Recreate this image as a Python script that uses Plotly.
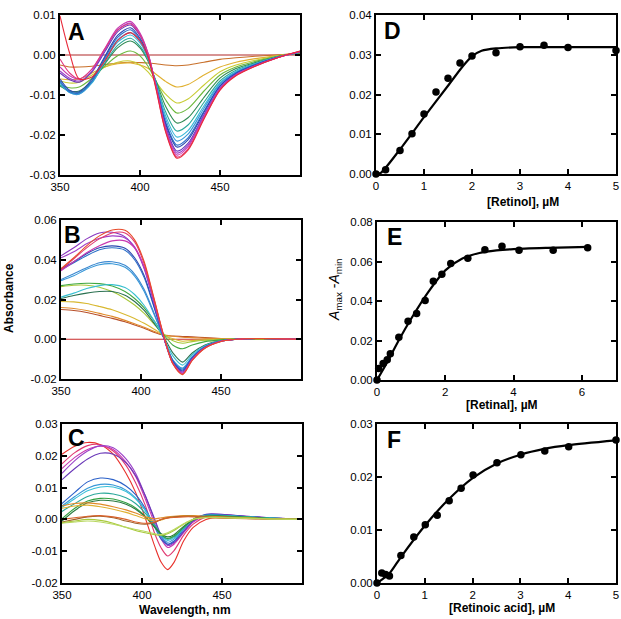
import plotly.graph_objects as go

W, H = 621, 619
FONT = "Liberation Sans, Arial, sans-serif"

# ---------------- Panel A (retinol spectra) ----------------
wl_A = [350, 356, 362, 370, 378, 386, 394, 400, 405, 410, 416, 423, 430, 440, 450, 460, 472, 485, 500]
spectra_A = [
    [0.0] * 19,
    [-0.0025, -0.003, -0.003, -0.0028, -0.0024, -0.002, -0.0018, -0.0019, -0.002, -0.0022, -0.0025, -0.0027, -0.0025, -0.0018, -0.0011, -0.0007, -0.0003, 0.0, 0.0004],
    [-0.006, -0.0062, -0.006, -0.0045, -0.003, -0.0022, -0.002, -0.0025, -0.0033, -0.0048, -0.0066, -0.008, -0.0074, -0.005, -0.003, -0.0018, -0.0009, -0.0002, 0.0006],
    [-0.0065, -0.007, -0.0068, -0.005, -0.003, -0.0018, -0.0015, -0.0025, -0.0042, -0.0068, -0.0098, -0.012, -0.011, -0.0075, -0.0042, -0.0025, -0.0013, -0.0003, 0.0006],
    [-0.0075, -0.0082, -0.008, -0.0058, -0.0028, -0.0002, 0.001, -0.0002, -0.0028, -0.0065, -0.0112, -0.0145, -0.0134, -0.009, -0.005, -0.003, -0.0016, -0.0004, 0.0006],
    [-0.0078, -0.009, -0.009, -0.0065, -0.0022, 0.0018, 0.0035, 0.0018, -0.0015, -0.0065, -0.0128, -0.017, -0.0157, -0.0106, -0.0058, -0.0034, -0.0019, -0.0005, 0.0006],
    [-0.0075, -0.0092, -0.0094, -0.0068, -0.002, 0.0024, 0.0042, 0.0022, -0.0012, -0.0068, -0.0142, -0.019, -0.0175, -0.0118, -0.0065, -0.0038, -0.0021, -0.0006, 0.0007],
    [-0.007, -0.0094, -0.0097, -0.007, -0.0015, 0.0032, 0.005, 0.003, -0.0008, -0.007, -0.0152, -0.0205, -0.0189, -0.0127, -0.007, -0.0041, -0.0022, -0.0006, 0.0007],
    [-0.0068, -0.0094, -0.0098, -0.0068, -0.0012, 0.0038, 0.0056, 0.0034, -0.0006, -0.0072, -0.016, -0.0215, -0.0198, -0.0133, -0.0073, -0.0043, -0.0023, -0.0007, 0.0007],
    [-0.0065, -0.0092, -0.0095, -0.0065, -0.0008, 0.0044, 0.0063, 0.0038, -0.0004, -0.0075, -0.0168, -0.0225, -0.0207, -0.014, -0.0077, -0.0045, -0.0024, -0.0007, 0.0008],
    [-0.006, -0.0088, -0.0092, -0.006, -0.0004, 0.0049, 0.0068, 0.0042, -0.0002, -0.0078, -0.0172, -0.023, -0.0212, -0.0143, -0.0078, -0.0046, -0.0025, -0.0007, 0.0008],
    [-0.0045, -0.0062, -0.0068, -0.0042, 0.0008, 0.0058, 0.0075, 0.0048, 0.0002, -0.0078, -0.0178, -0.024, -0.0221, -0.0149, -0.0082, -0.0048, -0.0026, -0.0007, 0.0008],
    [-0.004, -0.0058, -0.0065, -0.004, 0.0012, 0.0063, 0.008, 0.0052, 0.0004, -0.0078, -0.0182, -0.0245, -0.0226, -0.0152, -0.0083, -0.0049, -0.0027, -0.0008, 0.0008],
    [-0.003, -0.0052, -0.006, -0.0035, 0.0016, 0.0067, 0.0084, 0.0055, 0.0005, -0.0078, -0.0185, -0.025, -0.023, -0.0155, -0.0085, -0.005, -0.0027, -0.0008, 0.0009],
    [-0.001, -0.0045, -0.006, -0.0035, 0.0015, 0.0062, 0.0078, 0.005, 0.0002, -0.0082, -0.019, -0.0255, -0.0235, -0.0158, -0.0087, -0.0051, -0.0028, -0.0008, 0.0009],
    [0.0098, 0.0005, -0.006, -0.0055, -0.0015, 0.0036, 0.0056, 0.0035, -0.0005, -0.0085, -0.0192, -0.0258, -0.0238, -0.016, -0.0088, -0.0052, -0.0028, -0.0008, 0.001],
]
colors_A = ["#b02828", "#c8702a", "#e0b030", "#c8cc34", "#6cb83c", "#2f8a52", "#2aa89a",
            "#38b8d8", "#3898d8", "#2a70c8", "#2a48b0", "#6a38b8", "#9a40c8", "#c838b0", "#e03880", "#e82a3a"]

# ---------------- Panel B (retinal spectra) ----------------
wl_B = [350, 358, 366, 374, 382, 390, 396, 402, 408, 414, 420, 426, 432, 440, 450, 460, 475, 500]
spectra_B = [
    [0.0] * 18,
    [0.015, 0.0145, 0.0135, 0.012, 0.0105, 0.0088, 0.0072, 0.0055, 0.0035, 0.002, 0.0016, 0.0014, 0.0012, 0.0008, 0.0004, 0.0002, 0.0002, 0.0],
    [0.016, 0.0155, 0.0145, 0.013, 0.0115, 0.0095, 0.0078, 0.006, 0.004, 0.0022, 0.0015, 0.001, 0.0008, 0.0005, 0.0003, 0.0002, 0.0002, 0.0],
    [0.019, 0.0188, 0.018, 0.0165, 0.0148, 0.0125, 0.0105, 0.008, 0.0052, 0.0022, 0.0002, -0.001, -0.0006, -0.0003, 0.0, 0.0002, 0.0002, 0.0],
    [0.0265, 0.0272, 0.0272, 0.0262, 0.024, 0.0205, 0.0172, 0.013, 0.0078, 0.0028, -0.0008, -0.002, -0.0012, -0.0005, -0.0001, 0.0002, 0.0003, 0.0],
    [0.027, 0.0278, 0.0282, 0.028, 0.0268, 0.024, 0.0205, 0.0158, 0.0095, 0.0025, -0.003, -0.0048, -0.0029, -0.0012, -0.0003, 0.0001, 0.0003, 0.0],
    [0.0205, 0.022, 0.0232, 0.024, 0.024, 0.0222, 0.019, 0.0145, 0.0082, 0.0015, -0.007, -0.0115, -0.0069, -0.0029, -0.0007, 0.0, 0.0004, 0.0],
    [0.0212, 0.0232, 0.0255, 0.027, 0.0275, 0.026, 0.0225, 0.017, 0.0095, 0.001, -0.0085, -0.013, -0.0078, -0.0033, -0.0008, 0.0, 0.0004, 0.0],
    [0.0295, 0.032, 0.0352, 0.0375, 0.038, 0.0362, 0.0318, 0.024, 0.0128, 0.0012, -0.0105, -0.0145, -0.0087, -0.0036, -0.0009, 0.0, 0.0004, 0.0],
    [0.030, 0.033, 0.036, 0.0385, 0.039, 0.0372, 0.0328, 0.025, 0.0135, 0.0012, -0.0108, -0.015, -0.009, -0.0038, -0.0009, 0.0, 0.0004, 0.0],
    [0.035, 0.0385, 0.042, 0.045, 0.046, 0.0448, 0.040, 0.031, 0.0165, 0.0012, -0.011, -0.0155, -0.0093, -0.0039, -0.0009, 0.0, 0.0004, 0.0],
    [0.0355, 0.039, 0.043, 0.046, 0.047, 0.0458, 0.041, 0.032, 0.017, 0.0012, -0.0115, -0.016, -0.0096, -0.004, -0.001, 0.0, 0.0004, 0.0],
    [0.042, 0.046, 0.0505, 0.0535, 0.0538, 0.0515, 0.046, 0.0355, 0.0185, 0.0012, -0.012, -0.0165, -0.0099, -0.0041, -0.001, 0.0, 0.0004, 0.0],
    [0.041, 0.044, 0.048, 0.0508, 0.052, 0.051, 0.0465, 0.036, 0.019, 0.0015, -0.0122, -0.017, -0.0102, -0.0043, -0.001, 0.0, 0.0004, 0.0],
    [0.0345, 0.039, 0.0435, 0.047, 0.0495, 0.0495, 0.046, 0.0365, 0.020, 0.002, -0.0122, -0.0172, -0.0103, -0.0043, -0.001, 0.0, 0.0004, 0.0],
    [0.035, 0.0405, 0.046, 0.0505, 0.0535, 0.0535, 0.049, 0.038, 0.0205, 0.0022, -0.0125, -0.0175, -0.0105, -0.0044, -0.0011, 0.0, 0.0004, 0.0],
    [0.0355, 0.041, 0.047, 0.052, 0.055, 0.0548, 0.050, 0.039, 0.021, 0.0025, -0.0125, -0.0178, -0.0107, -0.0045, -0.0011, 0.0, 0.0004, 0.0],
]
colors_B = ["#c82a2a", "#b8502a", "#e08a2a", "#d8b830", "#a8c83a", "#40a840", "#2a7050", "#38c0d0",
            "#3898d8", "#3a88d0", "#2a70c8", "#2a48b0", "#8a38c0", "#a040c8", "#c838b0", "#e03870", "#e84a2a"]

# ---------------- Panel C (retinoic acid spectra) ----------------
wl_C = [350, 358, 366, 374, 382, 390, 396, 402, 408, 412, 416, 420, 426, 432, 440, 450, 465, 480, 500]
spectra_C = [
    [0.0205, 0.023, 0.0242, 0.0235, 0.0205, 0.0145, 0.0085, 0.0005, -0.0085, -0.0135, -0.0158, -0.0135, -0.0068, -0.0025, 0.0, 0.0008, 0.0006, 0.0003, 0.0],
    [0.0175, 0.021, 0.0232, 0.0235, 0.0215, 0.017, 0.0115, 0.0045, -0.0045, -0.009, -0.0115, -0.0098, -0.005, -0.0015, 0.0008, 0.0012, 0.0008, 0.0004, 0.0],
    [0.016, 0.0195, 0.022, 0.023, 0.022, 0.018, 0.0135, 0.0065, -0.0015, -0.0062, -0.0088, -0.0078, -0.0042, -0.0008, 0.0012, 0.0014, 0.0009, 0.0004, 0.0],
    [0.0145, 0.0185, 0.0215, 0.0232, 0.0225, 0.019, 0.0145, 0.0075, -0.0005, -0.0055, -0.0082, -0.0074, -0.004, -0.0006, 0.0014, 0.0015, 0.001, 0.0005, 0.0],
    [0.0125, 0.016, 0.019, 0.0208, 0.0205, 0.0178, 0.0138, 0.0075, 0.0, -0.005, -0.0078, -0.0072, -0.0038, -0.0004, 0.0016, 0.0016, 0.001, 0.0005, 0.0],
    [0.005, 0.0085, 0.0118, 0.013, 0.0125, 0.0105, 0.0078, 0.0035, -0.0025, -0.0062, -0.0078, -0.0068, -0.0032, 0.0, 0.0015, 0.0014, 0.0009, 0.0004, 0.0],
    [0.0042, 0.0072, 0.0098, 0.011, 0.0108, 0.0092, 0.0068, 0.003, -0.0022, -0.0055, -0.0072, -0.0062, -0.003, 0.0, 0.0013, 0.0013, 0.0008, 0.0004, 0.0],
    [0.0038, 0.0065, 0.009, 0.0102, 0.0102, 0.0088, 0.0065, 0.0028, -0.002, -0.005, -0.0066, -0.0058, -0.0028, 0.0, 0.0012, 0.0012, 0.0008, 0.0004, 0.0],
    [0.0025, 0.005, 0.0072, 0.0082, 0.008, 0.0068, 0.005, 0.002, -0.0018, -0.0048, -0.0062, -0.0055, -0.0026, 0.0, 0.0012, 0.0012, 0.0008, 0.0004, 0.0],
    [0.0002, 0.0035, 0.0058, 0.0066, 0.0064, 0.0052, 0.0036, 0.001, -0.0025, -0.0048, -0.006, -0.0052, -0.0025, -0.0002, 0.001, 0.001, 0.0007, 0.0003, 0.0],
    [-0.0005, 0.0028, 0.0052, 0.006, 0.0058, 0.0048, 0.0032, 0.0008, -0.0025, -0.0045, -0.0055, -0.0048, -0.0022, 0.0, 0.001, 0.001, 0.0006, 0.0003, 0.0],
    [0.0042, 0.005, 0.0052, 0.0048, 0.004, 0.003, 0.002, 0.0008, 0.0002, 0.0005, 0.0008, 0.001, 0.0012, 0.0012, 0.001, 0.0008, 0.0005, 0.0002, 0.0],
    [0.0035, 0.0042, 0.0045, 0.004, 0.0032, 0.0022, 0.0012, 0.0002, -0.0005, -0.0002, 0.0005, 0.0008, 0.001, 0.001, 0.0008, 0.0006, 0.0004, 0.0002, 0.0],
    [-0.0008, 0.0, 0.0008, 0.001, 0.0005, -0.0005, -0.0012, -0.0015, -0.001, 0.0, 0.0005, 0.0008, 0.001, 0.001, 0.0008, 0.0005, 0.0003, 0.0001, 0.0],
    [0.0, 0.0005, 0.001, 0.0012, 0.0008, 0.0, -0.0008, -0.0012, -0.0008, 0.0, 0.0004, 0.0006, 0.0008, 0.0008, 0.0006, 0.0004, 0.0002, 0.0001, 0.0],
    [-0.001, -0.0005, 0.0, -0.0003, -0.0012, -0.0025, -0.0035, -0.0042, -0.0048, -0.005, -0.0045, -0.0035, -0.0015, 0.0, 0.0006, 0.0006, 0.0004, 0.0002, 0.0],
    [-0.0012, -0.0008, -0.0005, -0.0008, -0.0015, -0.0025, -0.0032, -0.0038, -0.0045, -0.0048, -0.0042, -0.0032, -0.0014, 0.0, 0.0005, 0.0005, 0.0003, 0.0001, 0.0],
]
colors_C = ["#e8302a", "#e03870", "#c838b0", "#9a40c8", "#6a38b8", "#2a60c8", "#3898d8", "#38c0d8",
            "#2aa89a", "#30a040", "#2a7a40", "#e08a2a", "#e0b030", "#a0602a", "#d8602a", "#a8c83a", "#b8d860"]

# ---------------- Panel D (retinol titration) ----------------
D_conc = [0, 0.2, 0.5, 0.75, 1.0, 1.25, 1.5, 1.75, 2.0, 2.5, 3.0, 3.5, 4.0, 5.0]
D_signal = [0, 0.0011, 0.0059, 0.0101, 0.0151, 0.0206, 0.0241, 0.0279, 0.0297, 0.0305, 0.032, 0.0324, 0.0318, 0.0311]
D_fit_x = [0, 0.1, 0.5, 1.0, 1.5, 1.8, 2.0, 2.2, 2.5, 3.0, 4.0, 5.0]
D_fit_y = [0, 0.0003, 0.0062, 0.0143, 0.0222, 0.027, 0.0296, 0.031, 0.0316, 0.0319, 0.0319, 0.0319]

# ---------------- Panel E (retinal titration) ----------------
E_conc = [0, 0.05, 0.18, 0.3, 0.39, 0.64, 0.91, 1.16, 1.41, 1.65, 1.9, 2.16, 2.66, 3.16, 3.66, 4.16, 5.16, 6.17]
E_signal = [0, 0.0058, 0.0083, 0.0103, 0.0133, 0.0217, 0.0297, 0.0337, 0.0403, 0.050, 0.0535, 0.059, 0.0617, 0.066, 0.0677, 0.0657, 0.0657, 0.067]
E_fit_x = [0, 0.3, 0.65, 1.0, 1.5, 2.0, 2.5, 3.0, 3.5, 4.0, 5.0, 6.2]
E_fit_y = [0, 0.009, 0.0205, 0.031, 0.0445, 0.0555, 0.0615, 0.0643, 0.0656, 0.0663, 0.0669, 0.0674]

# ---------------- Panel F (retinoic acid titration) ----------------
F_conc = [0, 0.1, 0.18, 0.26, 0.5, 0.77, 1.01, 1.26, 1.51, 1.76, 2.01, 2.51, 3.01, 3.51, 4.01, 5.0]
F_signal = [0, 0.0019, 0.0016, 0.0013, 0.0052, 0.0087, 0.011, 0.0128, 0.0155, 0.0179, 0.0204, 0.0227, 0.0242, 0.0249, 0.0257, 0.027]
F_fit_x = [0, 0.25, 0.5, 1.0, 1.5, 2.0, 2.5, 3.0, 3.5, 4.0, 5.0]
F_fit_y = [0, 0.0017, 0.0049, 0.0108, 0.0158, 0.0198, 0.0225, 0.0242, 0.0253, 0.026, 0.0269]

# ---------------- tick labels ----------------
wl_ticks = [350, 400, 450]
wl_ticktext = ["350", "400", "450"]
A_yticks = [0.01, 0.0, -0.01, -0.02, -0.03]
A_yticktext = ["0.01", "0.00", "-0.01", "-0.02", "-0.03"]
B_yticks = [0.06, 0.04, 0.02, 0.0, -0.02]
B_yticktext = ["0.06", "0.04", "0.02", "0.00", "-0.02"]
C_yticks = [0.03, 0.02, 0.01, 0.0, -0.01, -0.02]
C_yticktext = ["0.03", "0.02", "0.01", "0.00", "-0.01", "-0.02"]
D_xticks = [0, 1, 2, 3, 4, 5]
D_yticks = [0, 0.01, 0.02, 0.03, 0.04]
D_yticktext = ["0.00", "0.01", "0.02", "0.03", "0.04"]
E_xticks = [0, 2, 4, 6]
E_yticks = [0, 0.02, 0.04, 0.06, 0.08]
E_yticktext = ["0.00", "0.02", "0.04", "0.06", "0.08"]
F_xticks = [0, 1, 2, 3, 4, 5]
F_yticks = [0, 0.01, 0.02, 0.03]
F_yticktext = ["0.00", "0.01", "0.02", "0.03"]

fig = go.Figure()


def add_spectra(wl, curves, colors, ax):
    for ys, c in zip(curves, colors):
        fig.add_trace(go.Scatter(x=wl, y=ys, mode="lines",
                                 line=dict(color=c, width=1.1, shape="spline", smoothing=0.8),
                                 xaxis="x" + ax, yaxis="y" + ax, showlegend=False, hoverinfo="skip"))


def add_titration(cx, cy, fx, fy, ax):
    fig.add_trace(go.Scatter(x=fx, y=fy, mode="lines",
                             line=dict(color="black", width=2.2, shape="spline", smoothing=0.7),
                             xaxis="x" + ax, yaxis="y" + ax, showlegend=False, cliponaxis=False))
    fig.add_trace(go.Scatter(x=cx, y=cy, mode="markers",
                             marker=dict(color="black", size=7.5),
                             xaxis="x" + ax, yaxis="y" + ax, showlegend=False, cliponaxis=False))


add_spectra(wl_A, spectra_A, colors_A, "")
add_spectra(wl_B, spectra_B, colors_B, "3")
add_spectra(wl_C, spectra_C, colors_C, "5")
add_titration(D_conc, D_signal, D_fit_x, D_fit_y, "2")
add_titration(E_conc, E_signal, E_fit_x, E_fit_y, "4")
add_titration(F_conc, F_signal, F_fit_x, F_fit_y, "6")


def dx(a, b):
    return [a / W, b / W]


def dy(top, bottom):
    return [1 - bottom / H, 1 - top / H]


def ax(domain, rng, tv, tt, anchor):
    return dict(domain=domain, range=rng, tickmode="array", tickvals=tv, ticktext=tt,
                showline=True, linewidth=2, linecolor="black", mirror="ticks",
                ticks="inside", ticklen=5, tickwidth=2, tickcolor="black",
                showgrid=False, zeroline=False, anchor=anchor, automargin=False,
                tickfont=dict(size=11.5, color="black", family=FONT))


LX, RX = (60, 300), (376, 616)
R1, R2, R3 = (15, 175), (220, 379), (424, 583)
R2E = (222, 380)

fig.update_layout(
    width=W, height=H, autosize=False, margin=dict(l=0, r=0, t=0, b=0, pad=0),
    paper_bgcolor="white", plot_bgcolor="white", showlegend=False,
    font=dict(family=FONT, color="black"),
    xaxis=ax(dx(*LX), [350, 500], wl_ticks, wl_ticktext, "y"),
    yaxis=ax(dy(*R1), [-0.03, 0.01], A_yticks, A_yticktext, "x"),
    xaxis3=ax(dx(LX[0] + 1, LX[1] + 1), [350, 500], wl_ticks, wl_ticktext, "y3"),
    yaxis3=ax(dy(*R2), [-0.02, 0.06], B_yticks, B_yticktext, "x3"),
    xaxis5=ax(dx(LX[0] + 2, LX[1] + 2), [350, 500], wl_ticks, wl_ticktext, "y5"),
    yaxis5=ax(dy(*R3), [-0.02, 0.03], C_yticks, C_yticktext, "x5"),
    xaxis2=ax(dx(*RX), [0, 5], D_xticks, [str(v) for v in D_xticks], "y2"),
    yaxis2=ax(dy(15, 174), [0, 0.04], D_yticks, D_yticktext, "x2"),
    xaxis4=ax(dx(RX[0] + 1, RX[1]), [0, 7], E_xticks, [str(v) for v in E_xticks], "y4"),
    yaxis4=ax(dy(*R2E), [0, 0.08], E_yticks, E_yticktext, "x4"),
    xaxis6=ax(dx(RX[0] + 1, RX[1]), [0, 5], F_xticks, [str(v) for v in F_xticks], "y6"),
    yaxis6=ax(dy(*R3), [0, 0.03], F_yticks, F_yticktext, "x6"),
)


def note(text, x, y, size=12, bold=True, angle=0, xanchor="center"):
    fig.add_annotation(text=("<b>%s</b>" % text) if bold else text, x=x / W, y=1 - y / H,
                       xref="paper", yref="paper", showarrow=False, textangle=angle,
                       xanchor=xanchor, yanchor="middle",
                       font=dict(size=size, color="black", family=FONT))


panel_letters = ["A", "B", "C", "D", "E", "F"]
letter_pos = [(66, 32), (62, 235), (66, 438), (382, 31), (385, 237), (385, 440)]
for L, (px, py) in zip(panel_letters, letter_pos):
    note(L, px, py, size=23, xanchor="left")

note("Absorbance", 9, 298, angle=-90)
note("Wavelength, nm", 185, 610)
note("[Retinol], µM", 523, 202)
note("[Retinal], µM", 502, 405)
note("[Retinoic acid], µM", 502, 608)
note("<i>A</i><sub>max</sub> -<i>A</i><sub>min</sub>", 335, 289, size=14, bold=False, angle=-90)

fig.write_html("out.html", config={"displayModeBar": False},
               post_script="document.body.style.margin='0';document.body.style.padding='0';")
